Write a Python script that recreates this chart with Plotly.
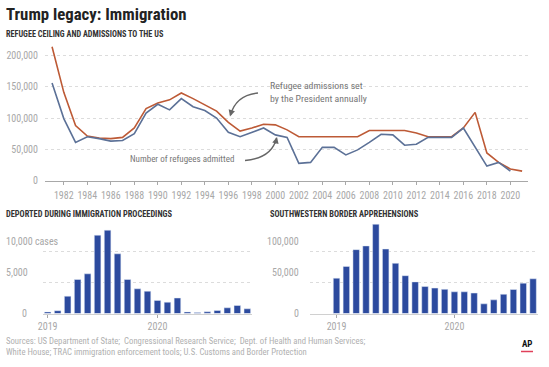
import plotly.graph_objects as go

# ---------------- DATA ----------------
years_ceiling = list(range(1981, 2022))
ceiling = [214000, 141000, 88000, 71000, 68000, 67000, 69000, 84000, 115000, 124000,
           129000, 140000, 131000, 121000, 111000, 93000, 79000, 84000, 90000, 89000,
           81000, 70000, 70000, 70000, 70000, 70000, 70000, 80000, 80000, 80000,
           80000, 76000, 70000, 70000, 70000, 84000, 109000, 44000, 29000, 18500, 15000]
years_admitted = list(range(1981, 2021))
admitted = [156000, 99000, 61000, 70000, 67000, 63000, 64000, 75000, 108000, 122000,
            113000, 131000, 118000, 112000, 100000, 77000, 70000, 77000, 84000, 73000,
            69000, 27500, 29000, 53000, 53000, 41000, 49000, 61000, 74000, 73000,
            56500, 58000, 69000, 69000, 69000, 84000, 53500, 23000, 29000, 15000]
top_xticks = list(range(1982, 2021, 2))
top_yticks = [0, 50000, 100000, 150000, 200000]
top_yticklabels = ["0", "50,000", "100,000", "150,000", "200,000"]

deported = [250, 450, 2770, 5440, 6350, 12530, 13330, 9550, 5440, 3950, 3570,
            2100, 1810, 2480, 250, 150, 270, 480, 910, 1280, 750]
deported_xticks = [0, 11]
deported_xticklabels = ["2019", "2020"]
deported_yticks = [0, 5000, 10000]
deported_yticklabels = ["0", "5,000", "10,000 cases"]

apprehensions = [57000, 76000, 103000, 109000, 144000, 104000, 81000, 61000, 51000, 43500,
                 41000, 39000, 35000, 35000, 33000, 15600, 22000, 31000, 38700, 49000, 56000]
appr_xticks = [0, 12]
appr_xticklabels = ["2019", "2020"]
appr_yticks = [0, 50000, 100000]
appr_yticklabels = ["0", "50,000", "100,000"]

# ---------------- STYLE ----------------
W, H = 549, 367
FONT = "Liberation Sans Narrow, Roboto Condensed, DejaVu Sans Condensed, Arial Narrow, sans-serif"
RED = "#bd5a36"
BLUE = "#5c7197"
BAR = "#2c4a9e"
GREY = "#a8a8a8"
GRID = "#dcdcdc"


def px(x):
    return x / W


def py(y):
    return 1 - y / H


fig = go.Figure()

fig.add_trace(go.Scatter(x=years_ceiling, y=ceiling, mode="lines",
                         line=dict(color=RED, width=1.6), xaxis="x", yaxis="y",
                         hoverinfo="skip", showlegend=False))
fig.add_trace(go.Scatter(x=years_admitted, y=admitted, mode="lines",
                         line=dict(color=BLUE, width=1.6), xaxis="x", yaxis="y",
                         hoverinfo="skip", showlegend=False))
fig.add_trace(go.Bar(x=list(range(len(deported))), y=deported, marker_color=BAR,
                     xaxis="x2", yaxis="y2", hoverinfo="skip", showlegend=False))
fig.add_trace(go.Bar(x=list(range(len(apprehensions))), y=apprehensions, marker_color=BAR,
                     xaxis="x3", yaxis="y3", hoverinfo="skip", showlegend=False))

axis_font = dict(family=FONT, size=10, color=GREY)

fig.update_layout(
    width=W, height=H, margin=dict(l=0, r=0, t=0, b=0, autoexpand=False),
    paper_bgcolor="white", plot_bgcolor="white",
    font=dict(family=FONT), bargap=0.34,
    xaxis=dict(domain=[px(45), px(528)], range=[1980.4, 2021.5], automargin=False,
               tickvals=top_xticks, ticks="outside", ticklen=3, tickcolor=GREY,
               showline=True, linecolor=GREY, linewidth=1.2, showgrid=False,
               zeroline=False, tickfont=axis_font, ticklabelstandoff=2, anchor="y"),
    yaxis=dict(domain=[py(180.5), py(44.25)], range=[0, 218000], automargin=False,
               tickvals=top_yticks, ticktext=top_yticklabels, showgrid=True,
               gridcolor=GRID, griddash="dot", gridwidth=1, zeroline=False,
               showline=False, ticks="", tickfont=axis_font, ticklabelstandoff=6,
               anchor="x"),
    xaxis2=dict(domain=[px(42.7), px(252.3)], range=[-0.5, 20.5], automargin=False,
                tickvals=deported_xticks, ticktext=deported_xticklabels,
                ticks="outside", ticklen=3, tickcolor=GREY, showline=True,
                linecolor="#d0d0d0", linewidth=1, showgrid=False, zeroline=False,
                tickfont=axis_font, anchor="y2"),
    yaxis2=dict(domain=[py(313.5), py(223)], range=[0, 14480], automargin=False,
                tickvals=deported_yticks, showticklabels=False, showgrid=True,
                gridcolor=GRID, griddash="dot", zeroline=False, showline=False,
                anchor="x2"),
    xaxis3=dict(domain=[px(310), px(538)], range=[-2.7, 20.5], automargin=False,
                tickvals=appr_xticks, ticktext=appr_xticklabels,
                ticks="outside", ticklen=3, tickcolor=GREY, showline=True,
                linecolor="#d0d0d0", linewidth=1, showgrid=False, zeroline=False,
                tickfont=axis_font, anchor="y3"),
    yaxis3=dict(domain=[py(313.5), py(223)], range=[0, 146000], automargin=False,
                tickvals=appr_yticks, showticklabels=False, showgrid=True,
                gridcolor=GRID, griddash="dot", zeroline=False, showline=False,
                anchor="x3"),
)

ann = []
# titles
ann.append(dict(text="<b>Trump legacy: Immigration</b>", x=px(4), y=py(14), xref="paper",
                yref="paper", xanchor="left", yanchor="middle", showarrow=False,
                font=dict(family=FONT, size=16.8, color="#222")))
ann.append(dict(text="<b>REFUGEE CEILING AND ADMISSIONS TO THE US</b>", x=px(4), y=py(34),
                xref="paper", yref="paper", xanchor="left", yanchor="middle",
                showarrow=False, font=dict(family=FONT, size=8.2, color="#333")))
ann.append(dict(text="<b>DEPORTED DURING IMMIGRATION PROCEEDINGS</b>", x=px(4), y=py(214),
                xref="paper", yref="paper", xanchor="left", yanchor="middle",
                showarrow=False, font=dict(family=FONT, size=8.4, color="#333")))
ann.append(dict(text="<b>SOUTHWESTERN BORDER APPREHENSIONS</b>", x=px(268), y=py(214),
                xref="paper", yref="paper", xanchor="left", yanchor="middle",
                showarrow=False, font=dict(family=FONT, size=8.4, color="#333")))
# line labels
ann.append(dict(text="Refugee admissions set<br>by the President annually", x=px(268),
                y=py(92), xref="paper", yref="paper", xanchor="left", yanchor="middle",
                align="left", showarrow=False, font=dict(family=FONT, size=9.8, color="#777")))
ann.append(dict(text="Number of refugees admitted", x=px(236), y=py(159), xref="paper",
                yref="paper", xanchor="right", yanchor="middle", showarrow=False,
                font=dict(family=FONT, size=9, color="#777")))
# arrowheads
ann.append(dict(text="", x=px(230), y=py(116.5), xref="paper", yref="paper", showarrow=True,
                ax=2, ay=-7, arrowhead=2, arrowsize=1, arrowwidth=1.3, arrowcolor="#666",
                standoff=0))
ann.append(dict(text="", x=px(277), y=py(137), xref="paper", yref="paper", showarrow=True,
                ax=-2, ay=8, arrowhead=2, arrowsize=1, arrowwidth=1.3, arrowcolor="#666",
                standoff=0))
# bottom y tick labels
for v, t in zip(deported_yticks, deported_yticklabels):
    if v == 0:
        ann.append(dict(text=t, x=px(29), y=v, xref="paper", yref="y2", xanchor="right",
                        yanchor="middle", showarrow=False, font=axis_font))
    else:
        ann.append(dict(text=t, x=px(4), y=v, xref="paper", yref="y2", xanchor="left",
                        yanchor="middle", yshift=10, showarrow=False, font=axis_font))
for v, t in zip(appr_yticks, appr_yticklabels):
    ann.append(dict(text=t, x=px(301), y=v, xref="paper", yref="y3", xanchor="right",
                    yanchor="middle", yshift=(10.5 if v else 0), showarrow=False,
                    font=axis_font))
# sources
ann.append(dict(text="Sources: US Department of State;  Congressional Research Service;  Dept. of Health and Human Services;<br>"
                     "White House; TRAC immigration enforcement tools; U.S. Customs and Border Protection",
                x=px(4), y=py(346), xref="paper", yref="paper", xanchor="left",
                yanchor="middle", align="left", showarrow=False,
                font=dict(family=FONT, size=8.7, color="#b0b0b0")))
ann.append(dict(text="<b>AP</b>", x=px(527), y=py(344), xref="paper", yref="paper",
                xanchor="center", yanchor="middle", showarrow=False,
                font=dict(family=FONT, size=9, color="#111")))

shapes = [
    dict(type="path", xref="paper", yref="paper",
         path=f"M {px(258)},{py(93)} Q {px(236)},{py(95)} {px(230.5)},{py(115)}",
         line=dict(color="#666", width=1.3)),
    dict(type="path", xref="paper", yref="paper",
         path=f"M {px(245)},{py(160.5)} Q {px(272)},{py(158)} {px(276.5)},{py(138)}",
         line=dict(color="#666", width=1.3)),
    dict(type="line", xref="paper", yref="paper", x0=px(521), x1=px(533),
         y0=py(351.5), y1=py(351.5), line=dict(color="#e0405a", width=1.5)),
]

fig.update_layout(annotations=ann, shapes=shapes)
fig.write_html("out.html", config={"displayModeBar": False},
               post_script="document.body.style.margin='0';document.body.style.padding='0';"
                           "document.body.style.overflow='hidden';")
